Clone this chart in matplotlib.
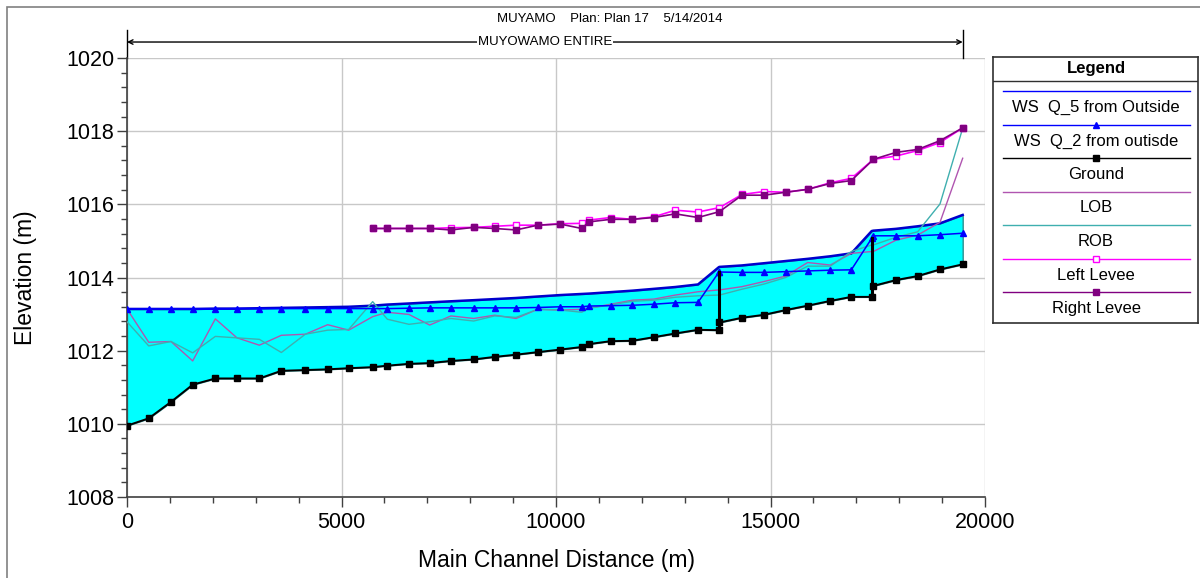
import matplotlib
matplotlib.use("Agg")
import matplotlib.pyplot as plt
import matplotlib.transforms as mtransforms
from matplotlib.patches import Rectangle
from matplotlib.ticker import MultipleLocator
import numpy as np

plt.rcParams['font.family'] = ['Liberation Sans', 'DejaVu Sans']

# river stations (m), two close sections at each inline structure
station = [0, 506, 1026, 1531, 2059, 2564, 3085, 3598, 4157, 4678, 5167, 5727,
           6068, 6573, 7055, 7552, 8081, 8570, 9068, 9573, 10101, 10599, 10769,
           11275, 11779, 12284, 12781, 13310, 13793, 13810, 14336, 14848, 15354,
           15866, 16394, 16884, 17359, 17397, 17925, 18431, 18951, 19480]

ground = [1009.95, 1010.15, 1010.60, 1011.07, 1011.24, 1011.24, 1011.24, 1011.45,
          1011.47, 1011.49, 1011.52, 1011.55, 1011.59, 1011.64, 1011.66, 1011.72,
          1011.76, 1011.83, 1011.89, 1011.96, 1012.03, 1012.10, 1012.18, 1012.26,
          1012.27, 1012.37, 1012.47, 1012.57, 1012.56, 1012.77, 1012.90, 1012.98,
          1013.11, 1013.23, 1013.36, 1013.47, 1013.47, 1013.77, 1013.93, 1014.04,
          1014.22, 1014.36]

ws_q5 = [1013.14, 1013.14, 1013.14, 1013.14, 1013.15, 1013.15, 1013.16, 1013.17,
         1013.18, 1013.19, 1013.20, 1013.23, 1013.26, 1013.29, 1013.32, 1013.35,
         1013.38, 1013.41, 1013.44, 1013.48, 1013.52, 1013.55, 1013.56, 1013.60,
         1013.64, 1013.69, 1013.74, 1013.81, 1014.28, 1014.29, 1014.33, 1014.39,
         1014.45, 1014.51, 1014.58, 1014.66, 1015.27, 1015.28, 1015.33, 1015.40,
         1015.48, 1015.71]

ws_q2 = [1013.14, 1013.14, 1013.14, 1013.14, 1013.14, 1013.15, 1013.15, 1013.15,
         1013.15, 1013.15, 1013.15, 1013.15, 1013.15, 1013.16, 1013.17, 1013.17,
         1013.17, 1013.17, 1013.17, 1013.18, 1013.20, 1013.20, 1013.22, 1013.23,
         1013.24, 1013.27, 1013.31, 1013.32, 1014.14, 1014.15, 1014.14, 1014.14,
         1014.16, 1014.18, 1014.20, 1014.21, 1015.07, 1015.14, 1015.14, 1015.14,
         1015.17, 1015.21]

lob = [1013.14, 1012.23, 1012.25, 1011.72, 1012.87, 1012.35, 1012.15, 1012.42,
       1012.45, 1012.71, 1012.56, 1012.93, 1013.05, 1012.99, 1012.70, 1012.95,
       1012.88, 1012.97, 1012.88, 1013.13, 1013.11, 1013.13, 1013.16, 1013.27,
       1013.38, 1013.41, 1013.52, 1013.61, 1013.66, 1013.66, 1013.75, 1013.89,
       1014.04, 1014.41, 1014.34, 1014.66, 1014.71, 1014.71, 1015.02, 1015.16,
       1015.51, 1017.26]

rob = [1012.79, 1012.13, 1012.25, 1011.94, 1012.39, 1012.35, 1012.31, 1011.95,
       1012.45, 1012.56, 1012.58, 1013.34, 1012.86, 1012.72, 1012.79, 1012.88,
       1012.81, 1012.95, 1012.91, 1013.13, 1013.11, 1013.05, 1013.16, 1013.25,
       1013.35, 1013.38, 1013.46, 1013.50, 1013.52, 1013.52, 1013.68, 1013.82,
       1014.00, 1014.31, 1014.31, 1014.71, 1014.89, 1014.89, 1015.10, 1015.25,
       1016.01, 1018.08]

# index of downstream section of each inline structure
structures = [28, 36]

levee_station = [5727, 6068, 6573, 7055, 7552, 8081, 8570, 9068, 9573, 10101,
                 10599, 10769, 11275, 11779, 12284, 12781, 13310, 13810, 14336,
                 14848, 15354, 15866, 16394, 16884, 17400, 17925, 18431, 18951,
                 19480]
left_levee = [1015.34, 1015.34, 1015.34, 1015.34, 1015.36, 1015.37, 1015.40,
              1015.43, 1015.43, 1015.47, 1015.48, 1015.57, 1015.64, 1015.59,
              1015.66, 1015.84, 1015.79, 1015.91, 1016.27, 1016.35, 1016.33,
              1016.41, 1016.59, 1016.71, 1017.23, 1017.32, 1017.47, 1017.69,
              1018.09]
right_levee = [1015.34, 1015.34, 1015.34, 1015.34, 1015.30, 1015.37, 1015.34,
               1015.30, 1015.43, 1015.46, 1015.34, 1015.52, 1015.59, 1015.59,
               1015.64, 1015.74, 1015.64, 1015.80, 1016.25, 1016.25, 1016.33,
               1016.41, 1016.57, 1016.65, 1017.23, 1017.42, 1017.50, 1017.74,
               1018.09]

C_Q5 = '#0000CC'
C_Q2 = '#0000FF'
C_LOB = '#B055B0'
C_ROB = '#3FAFAF'
C_LL = '#FF00FF'
C_RL = '#800080'

fig = plt.figure(figsize=(12, 5.78), dpi=100)
fig.add_artist(Rectangle((7/1200, -0.01), 1.0, 1 - 7/578 + 0.01,
                         transform=fig.transFigure, fill=False,
                         edgecolor='#808080', lw=1.2))

ax = fig.add_axes([127/1200, 1 - 497/578, 858/1200, 439/578])
ax.set_xlim(0, 20000)
ax.set_ylim(1008, 1020)

ax.fill_between(station, ground, ws_q5, color='#00FFFF', edgecolor='#2F8F8F',
                lw=1, zorder=2)
ax.plot(station, ws_q5, color=C_Q5, lw=1.8, zorder=3)
ax.plot(station, lob, color=C_LOB, lw=1, zorder=4)
ax.plot(station, rob, color=C_ROB, lw=1, zorder=4)
ax.plot(station, ws_q2, color=C_Q2, lw=1.1, marker='^', ms=5, zorder=5)
ax.plot(levee_station, left_levee, color=C_LL, lw=1.2, marker='s', ms=5,
        mfc='white', mec=C_LL, zorder=5)
ax.plot(levee_station, right_levee, color=C_RL, lw=1.2, marker='s', ms=5,
        zorder=5)
for i in structures:
    ax.plot([station[i], station[i]], [ground[i], ws_q2[i]], color='black',
            lw=2.2, zorder=6)
ax.plot(station, ground, color='black', lw=1.4, marker='s', ms=4.5, zorder=7)

ax.grid(True, color='#C8C8C8', lw=1)
ax.set_axisbelow(True)
ax.xaxis.set_major_locator(MultipleLocator(5000))
ax.xaxis.set_minor_locator(MultipleLocator(1000))
ax.yaxis.set_major_locator(MultipleLocator(2))
ax.yaxis.set_minor_locator(MultipleLocator(0.4))
ax.tick_params(which='major', direction='out', length=7, width=1,
               color='#404040', labelsize=15.5, pad=2)
ax.tick_params(which='minor', direction='out', length=4, width=1,
               color='#404040')
ax.tick_params(axis='x', which='major', pad=4)
for s in ['top', 'right']:
    ax.spines[s].set_visible(False)
for s in ['left', 'bottom']:
    ax.spines[s].set_color('#404040')
    ax.spines[s].set_linewidth(1.2)

ax.set_xlabel('Main Channel Distance (m)', fontsize=16.5)
ax.set_ylabel('Elevation (m)', fontsize=16.5)
ax.xaxis.set_label_coords(0.5, -0.118)
ax.yaxis.set_label_coords(-0.105, 0.5)

# reach annotation above the plot
trans = mtransforms.blended_transform_factory(ax.transData, ax.transAxes)
ax.annotate('', xy=(station[0], 1.0364), xytext=(station[-1], 1.0364),
            xycoords=trans, textcoords=trans,
            arrowprops=dict(arrowstyle='<->', color='black', lw=1,
                            shrinkA=0, shrinkB=0, mutation_scale=8))
for xs in [station[0], station[-1]]:
    ax.plot([xs, xs], [1.0, 1.064], transform=trans, color='black', lw=1,
            clip_on=False)
ax.text((station[0] + station[-1]) / 2, 1.0364, 'MUYOWAMO ENTIRE',
        transform=trans, ha='center', va='center', fontsize=9.5,
        bbox=dict(facecolor='white', edgecolor='none', pad=0.5), zorder=10)

fig.text(610/1200, 1 - 19/578, 'MUYAMO    Plan: Plan 17    5/14/2014',
         ha='center', va='center', fontsize=9.5)

# legend panel
lax = fig.add_axes([993/1200, 1 - 323/578, 205/1200, 266/578])
lax.set_xlim(993, 1198)
lax.set_ylim(323, 57)
lax.set_xticks([])
lax.set_yticks([])
for s in lax.spines.values():
    s.set_color('#303030')
    s.set_linewidth(1.2)
lax.text(1096, 69, 'Legend', ha='center', va='center', fontsize=12,
         fontweight='bold')
lax.plot([993, 1198], [81, 81], color='#303030', lw=1)

entries = [
    ('WS  Q_5 from Outside', C_Q2, None, None),
    ('WS  Q_2 from outisde', C_Q2, '^', C_Q2),
    ('Ground', 'black', 's', 'black'),
    ('LOB', C_LOB, None, None),
    ('ROB', C_ROB, None, None),
    ('Left Levee', C_LL, 's', 'white'),
    ('Right Levee', C_RL, 's', C_RL),
]
for k, (lab, col, mk, mfc) in enumerate(entries):
    yl = 91 + k * 33.5
    lax.plot([1003, 1190], [yl, yl], color=col, lw=1)
    if mk is not None:
        lax.plot([1096], [yl], marker=mk, ms=4, color=col, mfc=mfc, mec=col)
    lax.text(1096, yl + 16.5, lab, ha='center', va='center', fontsize=12)

fig.savefig('out.png', dpi=100)
